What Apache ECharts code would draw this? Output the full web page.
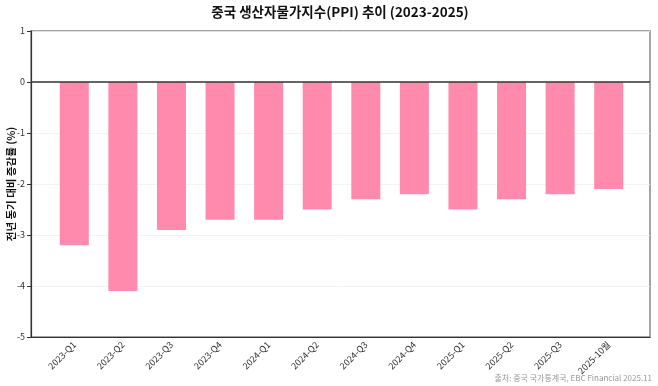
<!DOCTYPE html>
<html><head><meta charset="utf-8">
<script src="https://cdn.jsdelivr.net/npm/echarts@6/dist/echarts.min.js"></script>
<style>html,body{margin:0;padding:0;background:#fff}#c{width:658px;height:386px}</style>
</head><body><div id="c"></div>
<script>
const categories = ['2023-Q1','2023-Q2','2023-Q3','2023-Q4','2024-Q1','2024-Q2','2024-Q3','2024-Q4','2025-Q1','2025-Q2','2025-Q3','2025-10월'];
const ppiValues = [-3.2,-4.1,-2.9,-2.7,-2.7,-2.5,-2.3,-2.2,-2.5,-2.3,-2.2,-2.1];
const yTicks = [1,0,-1,-2,-3,-4,-5];
const titleText = '중국 생산자물가지수(PPI) 추이 (2023-2025)';
const yName = '전년 동기 대비 증감률 (%)';
const sourceText = '출처: 중국 국가통계국, EBC Financial 2025.11';

const FONT = '"Noto Sans CJK KR", "Noto Sans", sans-serif';
const chart = echarts.init(document.getElementById('c'), null, {renderer:'canvas'});
const yCommon = {type: 'value', min: -5, max: 1, interval: 1};
chart.setOption({
  animation: false,
  textStyle: {fontFamily: FONT},
  graphic: [{
    type: 'text', x: 340, y: 5,
    style: {text: titleText, fill: '#111', fontSize: 13.5, fontWeight: 'bold', fontFamily: FONT, textAlign: 'center'}
  }, {
    type: 'text', right: 6, bottom: 4,
    style: {text: sourceText, fill: '#999', fontSize: 8, fontFamily: FONT}
  }],
  grid: [
    {left: 31, right: 8, top: 31, bottom: 49, show: true, borderColor: '#888', borderWidth: 1.5, backgroundColor: 'transparent', outerBoundsMode: 'none', containLabel: false},
    {left: 50, right: 25, top: 31, bottom: 49, outerBoundsMode: 'none', containLabel: false}
  ],
  xAxis: [{
    gridIndex: 0, type: 'value', min: 0, max: 1,
    axisLine: {show: true, onZero: false, lineStyle: {color: '#333', width: 1.2}},
    axisTick: {show: false}, axisLabel: {show: false}, splitLine: {show: false}
  }, {
    gridIndex: 1, type: 'category', data: categories, boundaryGap: true,
    axisLine: {show: false},
    axisTick: {show: true, alignWithLabel: true, length: 4, lineStyle: {color: '#333'}},
    axisLabel: {rotate: 45, fontSize: 9, color: '#333', margin: 6, interval: 0},
    splitLine: {show: false}
  }],
  yAxis: [Object.assign({}, yCommon, {
    gridIndex: 0,
    name: yName, nameLocation: 'middle', nameGap: 15, nameMoveOverlap: false,
    nameTextStyle: {fontSize: 10.5, fontWeight: 'bold', color: '#111', fontFamily: FONT},
    axisLine: {show: true, onZero: false, lineStyle: {color: '#333', width: 1.2}},
    axisTick: {show: true, length: 4, lineStyle: {color: '#333'}},
    axisLabel: {fontSize: 9, color: '#333', margin: 6},
    splitLine: {show: true, lineStyle: {color: '#f0f0f0', width: 0.8}}
  }), Object.assign({}, yCommon, {
    gridIndex: 1, show: false, splitLine: {show: false}
  })],
  series: [{
    type: 'line', xAxisIndex: 0, yAxisIndex: 0, data: [],
    markLine: {
      silent: true, symbol: 'none', label: {show: false},
      lineStyle: {color: '#333', width: 1.5, type: 'solid'},
      data: [{yAxis: 0}]
    }
  }, {
    type: 'bar', xAxisIndex: 1, yAxisIndex: 1,
    data: ppiValues,
    barWidth: 29,
    itemStyle: {color: '#FF8AAD'}
  }]
});
</script></body></html>
